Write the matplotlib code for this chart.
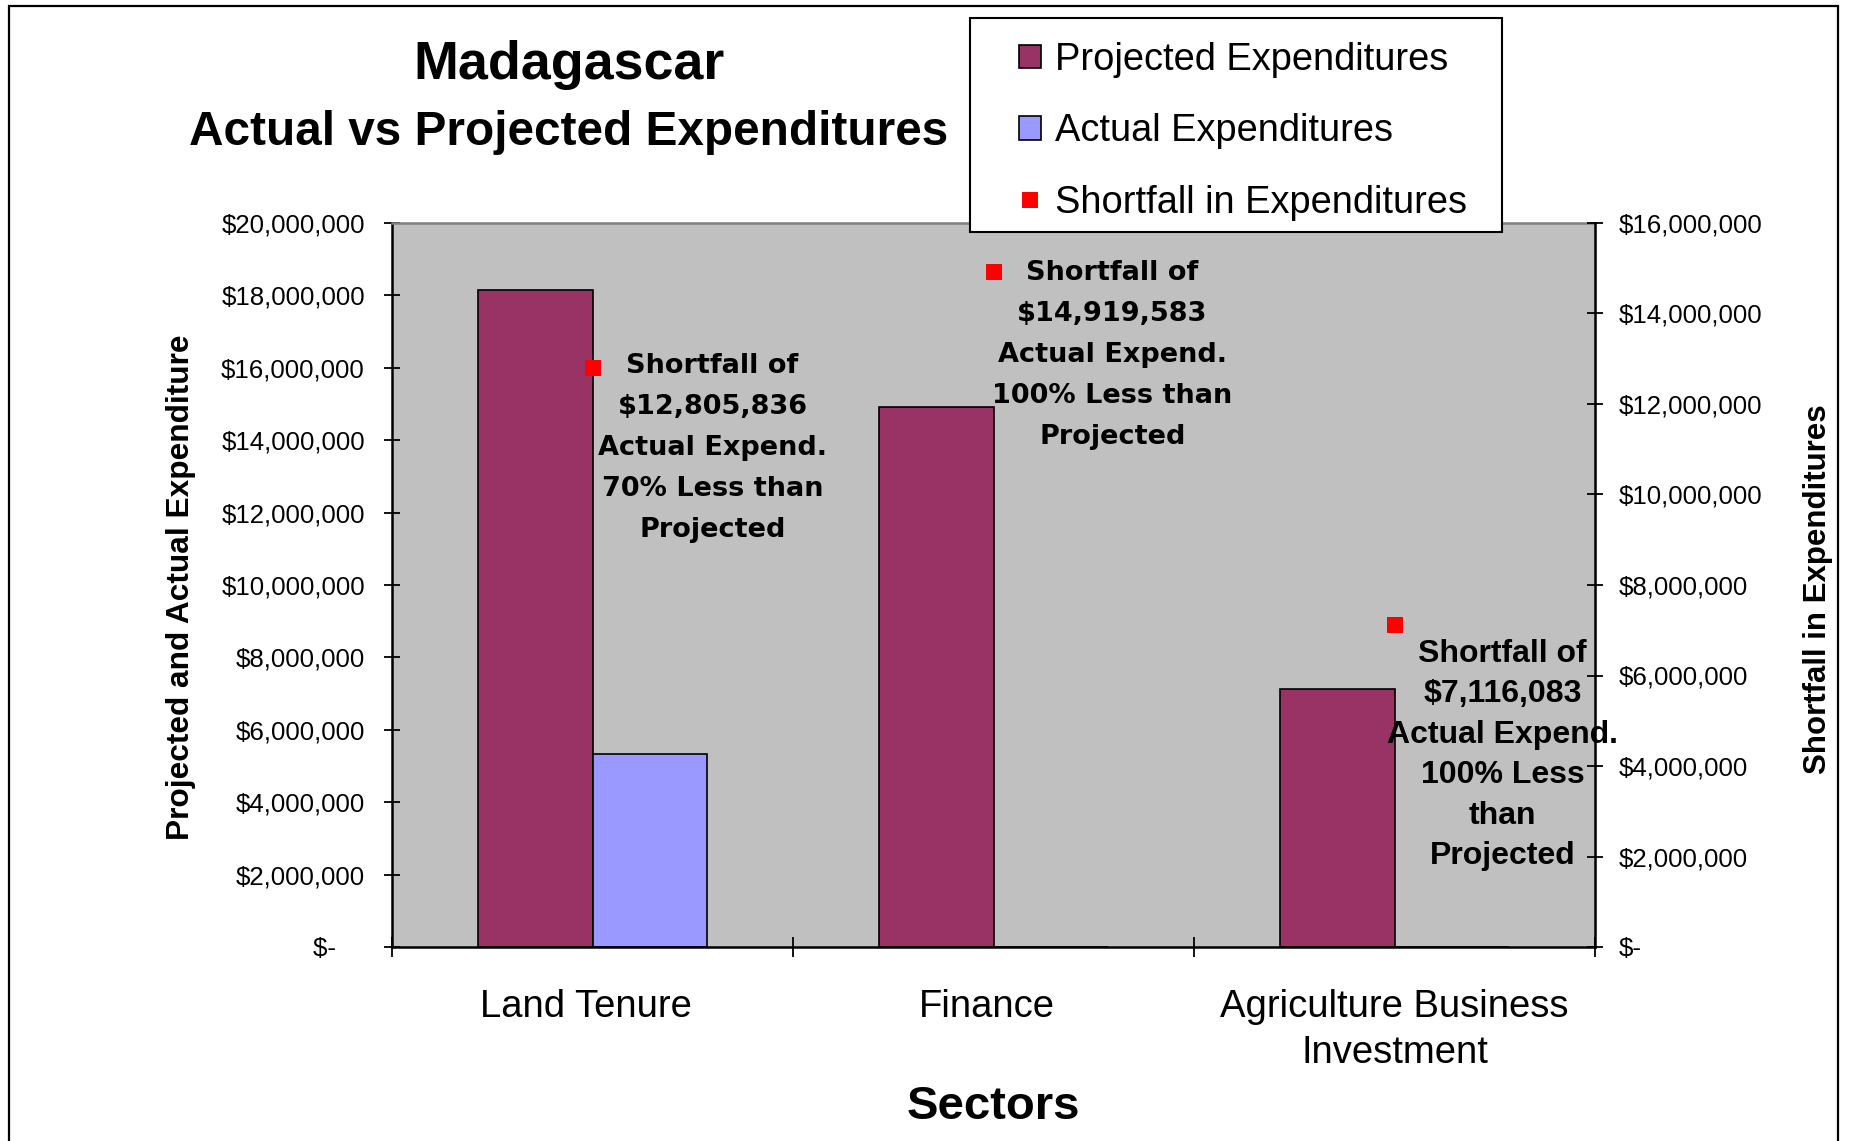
import matplotlib
matplotlib.use("Agg")
import matplotlib.pyplot as plt
from matplotlib.patches import Patch, Rectangle
from matplotlib.lines import Line2D
from matplotlib.ticker import FuncFormatter, FixedLocator
from matplotlib.transforms import ScaledTranslation

plt.rcParams['font.family'] = ['Liberation Sans', 'DejaVu Sans']
plt.rcParams['text.parse_math'] = False

# ---------------- data ----------------
categories = ["Land Tenure", "Finance", "Agriculture Business\nInvestment"]
projected = [18150000, 14919583, 7116083]
actual = [5344164, 0, 0]
shortfall = [12805836, 14919583, 7116083]
annotations = [
    "Shortfall of\n$12,805,836\nActual Expend.\n70% Less than\nProjected",
    "Shortfall of\n$14,919,583\nActual Expend.\n100% Less than\nProjected",
    "Shortfall of\n$7,116,083\nActual Expend.\n100% Less\nthan\nProjected",
]
legend_labels = ["Projected Expenditures", "Actual Expenditures", "Shortfall in Expenditures"]
left_ticks = [0, 2e6, 4e6, 6e6, 8e6, 10e6, 12e6, 14e6, 16e6, 18e6, 20e6]
right_ticks = [0, 2e6, 4e6, 6e6, 8e6, 10e6, 12e6, 14e6, 16e6]

# ---------------- style ----------------
C_PROJ = "#993366"
C_ACT = "#9999FF"
C_BG = "#C0C0C0"
W, H = 1850, 1141
fig = plt.figure(figsize=(W / 100, H / 100), dpi=100)

def fx(px):
    return px / W

def fy(py):
    return 1 - py / H

ax = fig.add_axes([fx(392), fy(947), fx(1595) - fx(392), fy(223) - fy(947)])
ax.set_facecolor(C_BG)

x = list(range(len(categories)))
bw = 1 / 3.5
ax.bar([i - bw / 2 for i in x], projected, width=bw, color=C_PROJ, edgecolor="black", linewidth=1.2, zorder=2)
ax.bar([i + bw / 2 for i in x], actual, width=bw, color=C_ACT, edgecolor="black", linewidth=1.2, zorder=2)

ax.set_xlim(-0.5, len(categories) - 0.5)
ax.set_ylim(0, 20e6)
ax.yaxis.set_major_locator(FixedLocator(left_ticks))

def money_left(v, pos):
    return "$-    " if v == 0 else "${:,.0f}".format(v)

def money_right(v, pos):
    return "$-" if v == 0 else "${:,.0f}".format(v)

ax.yaxis.set_major_formatter(FuncFormatter(money_left))
ax.tick_params(axis="y", direction="inout", length=12, width=1.3, labelsize=18.6, pad=13.5)
ax.set_xticks(x)
ax.set_xticklabels(categories, fontsize=27.5, linespacing=1.37)
ax.tick_params(axis="x", which="major", length=0, pad=30)
for lbl in ax.get_xticklabels()[:2]:
    lbl.set_transform(lbl.get_transform() + ScaledTranslation(-7 / 100, 0, fig.dpi_scale_trans))
ax.set_xticks([i - 0.5 for i in range(len(categories) + 1)], minor=True)
ax.tick_params(axis="x", which="minor", direction="inout", length=14, width=1.3)

for s in ["left", "bottom"]:
    ax.spines[s].set_linewidth(1.8)
    ax.spines[s].set_color("black")
ax.spines["top"].set_color("#808080")
ax.spines["top"].set_linewidth(1.8)
ax.spines["right"].set_visible(False)

ax2 = ax.twinx()
ax2.set_ylim(0, 16e6)
ax2.yaxis.set_major_locator(FixedLocator(right_ticks))
ax2.yaxis.set_major_formatter(FuncFormatter(money_right))
ax2.tick_params(axis="y", direction="inout", length=12, width=1.3, labelsize=18.6, pad=11)
for s in ["left", "top", "bottom"]:
    ax2.spines[s].set_visible(False)
ax2.spines["right"].set_linewidth(1.8)
ax2.plot(x, shortfall, linestyle="none", marker="s", markersize=12, color="#FF0000",
         markeredgewidth=0, zorder=3)

offsets = [(120, -80), (119, -83), (108, -130)]
fonts = [("DejaVu Sans", 19.5, 1.75), ("DejaVu Sans", 19.5, 1.75), ("Liberation Sans", 23, 1.46)]
for i in range(len(categories)):
    fam, fs, ls = fonts[i]
    ax2.annotate(annotations[i], xy=(x[i], shortfall[i]), xytext=offsets[i],
                 textcoords="offset pixels", ha="center", va="center",
                 multialignment="center", fontsize=fs, fontweight="bold",
                 family=[fam, "DejaVu Sans"], linespacing=ls, zorder=4)

# titles and axis labels
fig.text(fx(569), fy(65), "Madagascar", ha="center", va="center", fontsize=38.7, fontweight="bold")
fig.text(fx(569), fy(132), "Actual vs Projected Expenditures", ha="center", va="center",
         fontsize=34.4, fontweight="bold")
fig.text(fx(993), fy(1107), "Sectors", ha="center", va="center", fontsize=34, fontweight="bold")
fig.text(fx(181), fy(587), "Projected and Actual Expenditure", ha="center", va="center",
         rotation=90, fontsize=22.8, fontweight="bold")
fig.text(fx(1818), fy(589), "Shortfall in Expenditures", ha="center", va="center",
         rotation=90, fontsize=22.5, fontweight="bold")

# legend box
fig.add_artist(Rectangle((fx(970), fy(232)), fx(1502) - fx(970), fy(18) - fy(232),
                         transform=fig.transFigure, facecolor="white", edgecolor="black",
                         linewidth=1.5, zorder=4))
handles = [Patch(facecolor=C_PROJ, edgecolor="black", linewidth=1.2),
           Patch(facecolor=C_ACT, edgecolor="black", linewidth=1.2),
           Line2D([], [], linestyle="none", marker="s", markersize=11, color="#FF0000", markeredgewidth=0)]
leg = fig.legend(handles, legend_labels, loc="upper left",
                 bbox_to_anchor=(fx(1019), fy(42)), bbox_transform=fig.transFigure,
                 fontsize=27.4, frameon=False, borderpad=0, borderaxespad=0,
                 handlelength=0.57, handleheight=0.56, handletextpad=0.37, labelspacing=0.93)
leg.set_zorder(5)

# outer figure border
fig.add_artist(Rectangle((fx(9), -0.02), fx(1838) - fx(9), fy(6) + 0.02,
                         transform=fig.transFigure, facecolor="none", edgecolor="black",
                         linewidth=1.6, zorder=6))

fig.savefig("out.png", dpi=100)
